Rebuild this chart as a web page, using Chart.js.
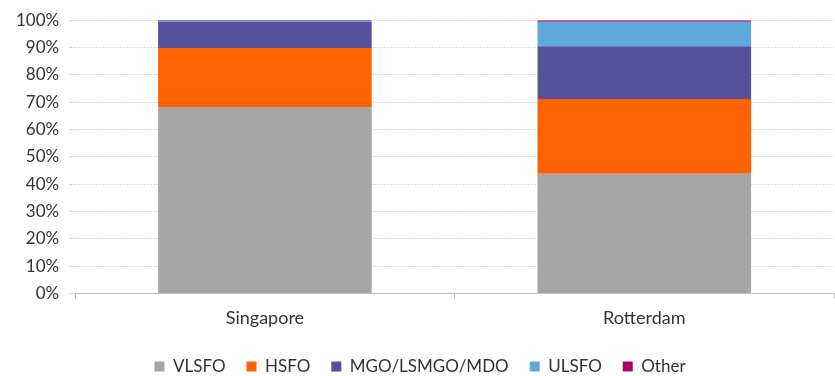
<!DOCTYPE html>
<html>
<head>
<meta charset="utf-8">
<script src="https://cdn.jsdelivr.net/npm/chart.js@4/dist/chart.umd.min.js"></script>
<style>
  html, body { margin: 0; padding: 0; background: #fff; }
</style>
</head>
<body>
<canvas id="myChart" width="835" height="376"></canvas>
<script>
// ports
const ports = ["Singapore", "Rotterdam"];

// share of bunker sales by fuel type (%)
const vlsfo = [68.2, 43.8];
const hsfo = [21.6, 27.4];
const mgo = [9.5, 19.3];
const ulsfo = [0.4, 8.9];
const other = [0.3, 0.6];

const yTicks = [0, 10, 20, 30, 40, 50, 60, 70, 80, 90, 100];

let ctx = document.getElementById("myChart").getContext("2d");

Chart.defaults.font.family = "Lato, 'Open Sans', sans-serif";
Chart.defaults.color = "#333";

let myChart = new Chart(ctx, {
    type: "bar",
    data: {
        labels: ports,
        datasets: [
            { label: "VLSFO", data: vlsfo, backgroundColor: "#a6a6a6" },
            { label: "HSFO", data: hsfo, backgroundColor: "#ff6200" },
            { label: "MGO/LSMGO/MDO", data: mgo, backgroundColor: "#525199" },
            { label: "ULSFO", data: ulsfo, backgroundColor: "#5ea8dc" },
            { label: "Other", data: other, backgroundColor: "#ac0066" },
        ],
    },
    options: {
        responsive: false,
        animation: false,
        datasets: {
            bar: {
                categoryPercentage: 1,
                barPercentage: 0.563,
            },
        },
        layout: {
            padding: { top: 20, right: 1, left: 6, bottom: -9 },
        },
        scales: {
            x: {
                stacked: true,
                afterFit: (axis) => {
                    axis.height -= 1;
                },
                grid: {
                    display: true,
                    drawOnChartArea: false,
                    offset: true,
                    tickLength: 5,
                    color: "#bfbfbf",
                },
                border: { color: "#bfbfbf" },
                ticks: { font: { size: 18 }, padding: 9 },
            },
            y: {
                stacked: true,
                min: 0,
                max: 100,
                afterBuildTicks: (axis) => {
                    axis.ticks = yTicks.map((v) => ({ value: v }));
                },
                grid: {
                    color: "#dcdcdc",
                    tickLength: 6,
                },
                border: { display: false, dash: [2, 1] },
                ticks: {
                    font: { size: 17 },
                    padding: 10,
                    callback: (v) => v + "%",
                },
            },
        },
        plugins: {
            legend: {
                position: "bottom",
                labels: {
                    boxWidth: 10,
                    boxHeight: 10,
                    padding: 21,
                    font: { size: 17 },
                },
            },
            tooltip: { enabled: false },
        },
    },
});
</script>
</body>
</html>
